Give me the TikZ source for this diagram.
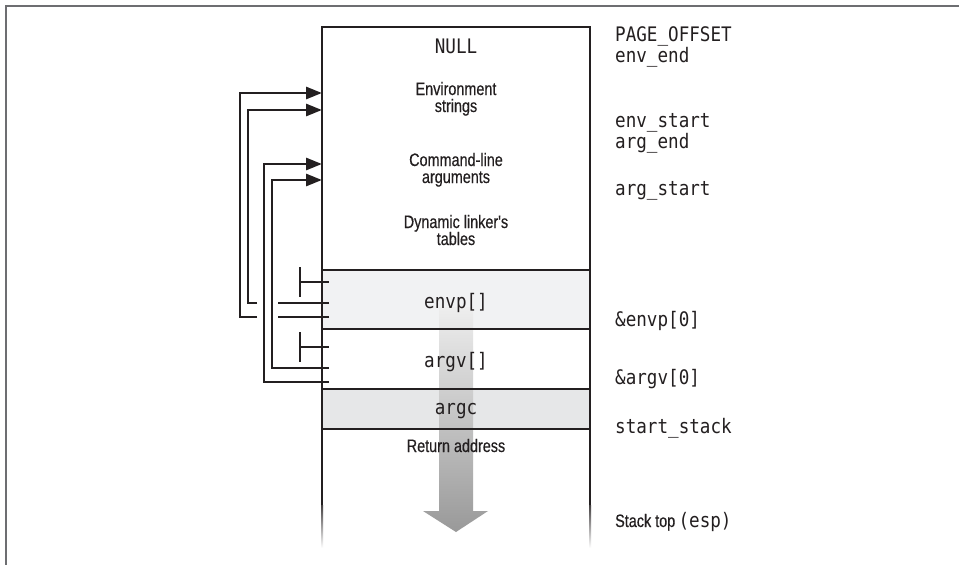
\documentclass[tikz,border=0pt]{standalone}
\usepackage{fontspec}
\usetikzlibrary{arrows.meta,positioning}
\newfontfamily\condfont[FakeStretch=0.8,FakeBold=0.4]{Liberation Sans}
\newfontfamily\codefont[FakeStretch=0.88]{DejaVu Sans Mono}
\definecolor{Ink}{HTML}{231F20}
\definecolor{FrameGray}{HTML}{6D6E71}
\definecolor{BandLight}{HTML}{F1F2F3}
\definecolor{BandMid}{HTML}{E6E7E8}
\definecolor{ArrowTop}{HTML}{EEEEEE}
\definecolor{ArrowBot}{HTML}{999999}

\begin{document}
\begin{tikzpicture}[x=1pt,y=-1pt,every node/.style={text=Ink,inner sep=0pt},lbl/.style={font=\condfont\fontsize{18}{17}\selectfont,align=center,anchor=base},code/.style={font=\codefont\fontsize{20}{17}\selectfont,align=left,anchor=base west},ptr/.style={draw=Ink,line width=2.8pt,-{Triangle[length=16pt,width=12pt]}},tick/.style={draw=Ink,line width=2.8pt},band/.style={minimum width=268pt,inner sep=0pt,outer sep=0pt}]
\useasboundingbox[fill=white] (0,0) rectangle (959,565);
\draw[FrameGray,line width=1.5pt] (6,565) -- (6,6) -- (959,6);
\node[band,fill=BandLight,minimum height=59pt] (envp) at (456,299.5) {};
\node[band,fill=BandMid,minimum height=40pt] (argc) at (456,409) {};
\shade[top color=ArrowTop,bottom color=ArrowBot] (439,307) -- (473,307) -- (473,511) -- (488,511) -- (456,532) -- (423,511) -- (439,511) -- cycle;
\coordinate (envT1) at (322,93);\coordinate (envT2) at (322,110);\coordinate (argT1) at (322,164);\coordinate (argT2) at (322,180);
\coordinate (envpN) at (329,282);\coordinate (envpA) at (329,303);\coordinate (envpB) at (329,317);
\coordinate (argvN) at (329,347);\coordinate (argvA) at (329,368);\coordinate (argvB) at (329,382);
\draw[ptr] (envpB) -- (278,317) (257,317) -- (240,317) |- (envT1);
\draw[ptr] (envpA) -- (278,303) (257,303) -- (248,303) |- (envT2);
\draw[ptr] (argvB) -- (264,382) |- (argT1);
\draw[ptr] (argvA) -- (272,368) |- (argT2);
\foreach \n/\y in {envpN/282,argvN/347}{\draw[tick] (300,\y-15) -- (300,\y+15) (300,\y) -- (\n);}
\draw[Ink,line width=2.8pt] (322,505) -- (322,27) -- (590,27) -- (590,505);
\shade[top color=Ink!85,bottom color=white] (321,505) rectangle (323,548);
\shade[top color=Ink!85,bottom color=white] (589,505) rectangle (591,548);
\draw[Ink,line width=2.8pt] (envp.north west) -- (envp.north east) (envp.south west) -- (envp.south east) (argc.north west) -- (argc.north east) (argc.south west) -- (argc.south east);
\node[code,anchor=base] (null) at (456,53) {NULL};
\node[lbl] (envstr) at (456,112) {Environment\\strings};
\node[lbl] (cmdargs) at (456,183) {Command-line\\arguments};
\node[lbl] (ldtab) at (456,245) {Dynamic linker's\\tables};
\node[code,anchor=base] (envplbl) at (456,308) {envp[]};
\node[code,anchor=base] (argvlbl) at (456,367) {argv[]};
\node[code,anchor=base] (argclbl) at (456,414) {argc};
\node[lbl] (retaddr) at (456,452) {Return address};
\foreach \y/\txt [count=\i] in {62/{PAGE\_OFFSET\\env\_end},148/{env\_start\\arg\_end},195/{arg\_start},326/{\&envp[0]},384/{\&argv[0]},433/{start\_stack}}{\node[code] (addr\i) at (615,\y) {\txt};}
\node[anchor=base west] (stacktop) at (615,527) {{\condfont\fontsize{18}{17}\selectfont Stack top} {\codefont\fontsize{20}{17}\selectfont(esp)}};
\end{tikzpicture}
\end{document}
